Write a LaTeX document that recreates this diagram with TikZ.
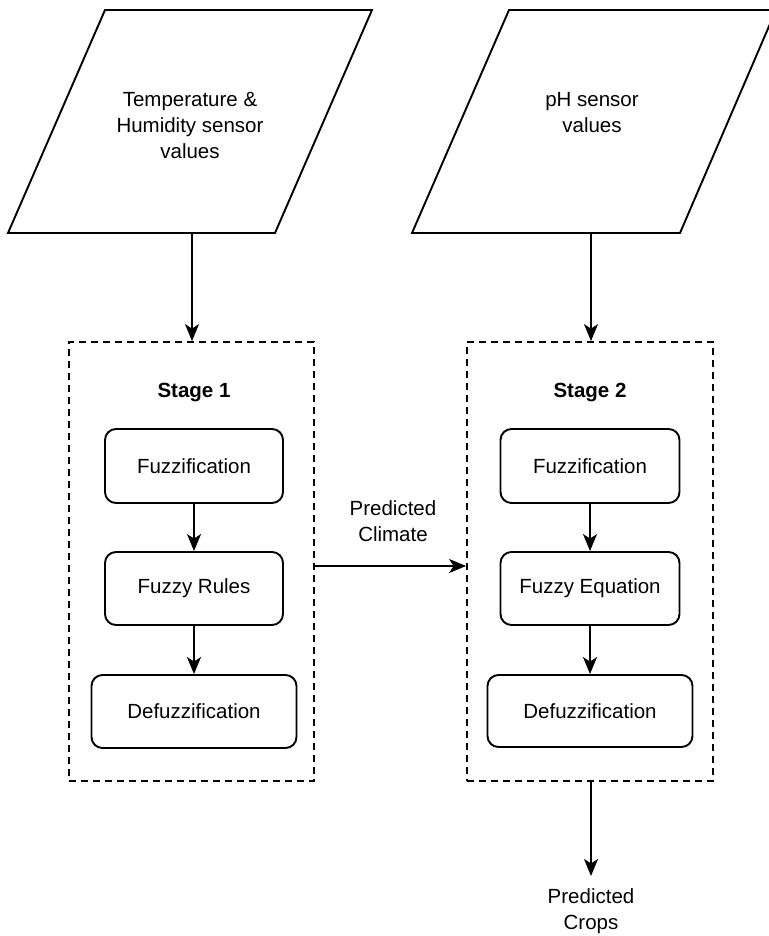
\documentclass[tikz,border=0pt]{standalone}
\usepackage{fontspec}
\setmainfont{Liberation Sans}
\usetikzlibrary{arrows.meta}
\begin{document}
\begin{tikzpicture}[x=1pt,y=-1pt,
  line width=1.9pt,
  txt/.style={font=\fontsize{20.5}{26}\selectfont, align=center},
  proc/.style={draw, rounded corners=11pt, txt, inner sep=0pt},
  stagebox/.style={draw, dashed, dash pattern=on 7pt off 5pt, line width=1.8pt},
  flow/.style={-{Stealth[length=17pt,width=14pt,inset=4.5pt]}},
]
\useasboundingbox (0,0) rectangle (768,936);

% input parallelograms
\draw (105,10) -- (372,10) -- (275,233) -- (8,233) -- cycle;
\coordinate (in1) at (192,233);
\node[txt] (t1) at (190,126) {Temperature \&\\Humidity sensor\\values};
\draw (509,10) -- (776,10) -- (680,233) -- (412,233) -- cycle;
\coordinate (in2) at (591,233);
\node[txt] (t2) at (592,113) {pH sensor\\values};

% stage containers
\node[stagebox, minimum width=245pt, minimum height=439pt, inner sep=0pt] (s1) at (191.5,561.5) {};
\node[stagebox, minimum width=246pt, minimum height=439pt, inner sep=0pt] (s2) at (590,561.5) {};
\node[txt, font=\fontsize{20.5}{26}\selectfont\bfseries] (h1) at (194,393) {Stage 1};
\node[txt, font=\fontsize{20.5}{26}\selectfont\bfseries] (h2) at (590,393) {Stage 2};

% stage 1 steps
\node[proc, minimum width=178pt, minimum height=74pt] (f1) at (194,466) {Fuzzification};
\node[proc, minimum width=178pt, minimum height=73pt] (r1) at (194,588.5) {Fuzzy Rules};
\node[proc, minimum width=205pt, minimum height=73pt] (d1) at (194,711.5) {Defuzzification};

% stage 2 steps
\node[proc, minimum width=179pt, minimum height=74pt] (f2) at (590,466) {Fuzzification};
\node[proc, minimum width=179pt, minimum height=73pt] (r2) at (590,588.5) {Fuzzy Equation};
\node[proc, minimum width=205pt, minimum height=72pt] (d2) at (590,711) {Defuzzification};

% connectors
\draw[flow] (in1) -- (in1 |- s1.north);
\draw[flow] (in2) -- (in2 |- s2.north);
\draw[flow] (f1) -- (r1);
\draw[flow] (r1) -- (d1);
\draw[flow] (f2) -- (r2);
\draw[flow] (r2) -- (d2);
\coordinate (c1) at (s1.east |- 0,566);
\draw[flow] (c1) -- (c1 -| s2.west);
\node[txt] (clim) at (393,521) {Predicted\\Climate};
\coordinate (out) at (591,876);
\draw[flow] (s2.south -| out) -- (out);
\node[txt] (crops) at (591,911) {Predicted\\Crops};
\end{tikzpicture}
\end{document}
